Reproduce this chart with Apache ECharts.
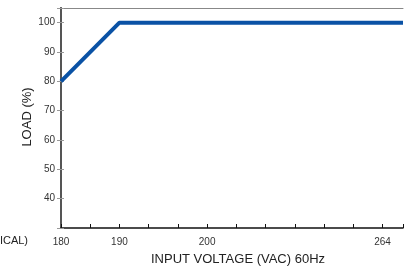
<!DOCTYPE html>
<html><head><meta charset="utf-8">
<script src="https://cdn.jsdelivr.net/npm/echarts@6/dist/echarts.min.js"></script>
<style>html,body{margin:0;padding:0;background:#fff}#c{width:409px;height:271px}</style>
</head><body><div id="c"></div>
<script>
// x ticks are evenly spaced steps; labels only at some of them
const xTickLabels = ['180', '', '190', '', '', '200', '', '', '', '', '', '264'];
const xMax = 11.7;               // right edge of the plot, in tick steps
const lineX = [0, 2, 11.7];      // positions in tick steps (180 V, 190 V, right edge)
const loadValues = [80, 100, 100];
const yLabels = [40, 50, 60, 70, 80, 90, 100];

const chart = echarts.init(document.getElementById('c'), null, {renderer: 'canvas'});
const font = 'Liberation Sans, Arial, sans-serif';
chart.setOption({
  animation: false,
  grid: {left: 61, right: 6, top: 8, bottom: 43},
  xAxis: [{
    type: 'value', min: 0, max: xMax, interval: 1, position: 'bottom',
    axisLine: {lineStyle: {color: '#111', width: 1.5}},
    axisTick: {inside: true, length: 4, lineStyle: {color: '#111', width: 1}},
    axisLabel: {margin: 9, fontSize: 10, color: '#333', fontFamily: font,
      formatter: v => { const i = Math.round(v); return Math.abs(v - i) < 1e-6 && xTickLabels[i] ? xTickLabels[i] : ''; }},
    splitLine: {show: false}
  }, {
    type: 'value', min: 0, max: xMax, position: 'top',
    axisLine: {show: true, lineStyle: {color: '#888', width: 1}},
    axisTick: {show: false}, axisLabel: {show: false}, splitLine: {show: false}
  }],
  yAxis: [{
    type: 'value', min: 30, max: 105, interval: 10,
    axisLine: {show: true, lineStyle: {color: '#111', width: 1.5}},
    axisTick: {inside: true, length: 3, lineStyle: {color: '#999'}},
    axisLabel: {fontSize: 10, color: '#333', margin: 6, fontFamily: font,
      formatter: v => yLabels.indexOf(v) >= 0 ? String(v) : ''},
    splitLine: {show: false}
  }, {
    type: 'value', min: 30, max: 105, interval: 10, position: 'right',
    axisLine: {show: true, lineStyle: {color: '#555', width: 2}},
    axisTick: {inside: true, length: 4, lineStyle: {color: '#999'}},
    axisLabel: {show: false}, splitLine: {show: false}
  }],
  graphic: [
    {type: 'text', x: 238, y: 259, style: {text: 'INPUT VOLTAGE (VAC) 60Hz', font: '13px ' + font, fill: '#222', align: 'center', verticalAlign: 'middle'}},
    {type: 'text', x: 28, y: 241, style: {text: '(TYPICAL)', font: '11px ' + font, fill: '#222', align: 'right', verticalAlign: 'middle'}},
    {type: 'text', x: 27, y: 117, rotation: Math.PI / 2, style: {text: 'LOAD (%)', font: '13px ' + font, fill: '#222', align: 'center', verticalAlign: 'middle'}}
  ],
  series: [{
    type: 'line', xAxisIndex: 0, yAxisIndex: 0,
    data: lineX.map((x, i) => [x, loadValues[i]]),
    symbol: 'none', lineStyle: {color: '#0a52a5', width: 4}, clip: false
  }]
});
</script></body></html>
